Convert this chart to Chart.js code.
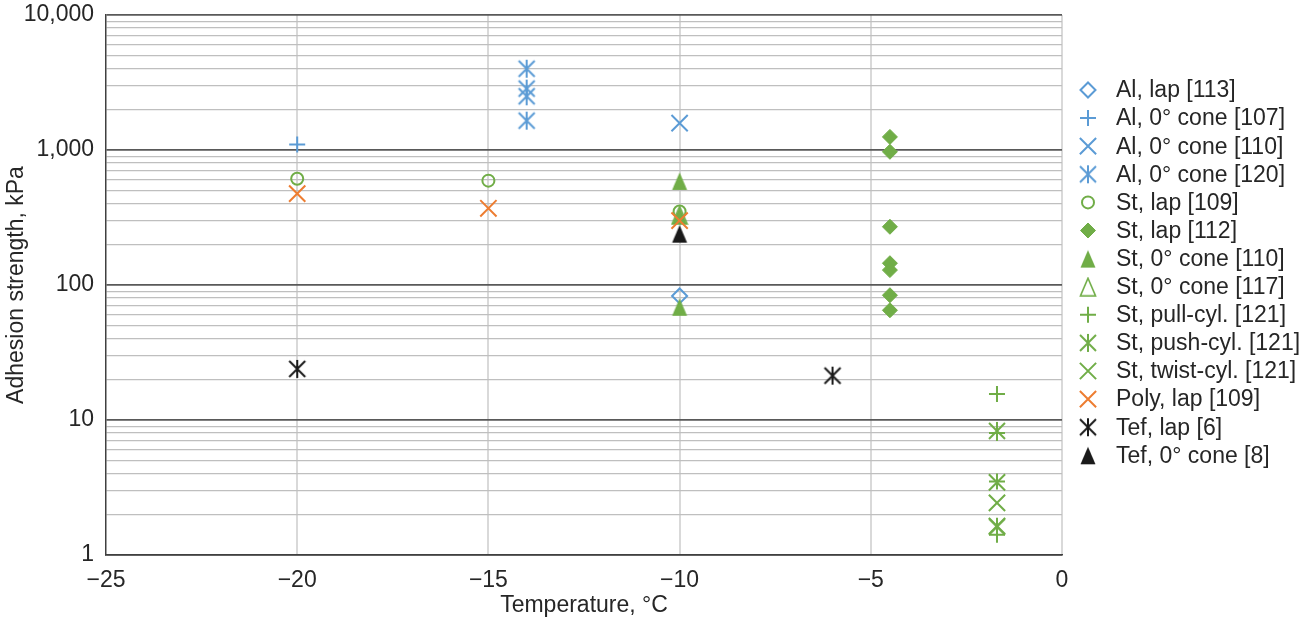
<!DOCTYPE html>
<html>
<head>
<meta charset="utf-8">
<title>Adhesion strength vs temperature</title>
<script src="https://cdn.jsdelivr.net/npm/chart.js@4.4.1/dist/chart.umd.min.js"></script>
<style>
  html, body { margin: 0; padding: 0; background: #fff; }
  #wrap { width: 1304px; height: 627px; }
</style>
</head>
<body>
<div id="wrap"><canvas id="adhesionChart" width="1304" height="627"></canvas></div>
<script>
// [temperature °C, adhesion strength kPa] per source
const alLap113 = [[-10, 83]];
const alCone107 = [[-20, 1100]];
const alCone110 = [[-10, 1580]];
const alCone120 = [[-14, 4000], [-14, 2850], [-14, 2500], [-14, 1650]];
const stLap109 = [[-20, 613], [-15, 593], [-10, 350]];
const stLap112 = [[-4.5, 1250], [-4.5, 970], [-4.5, 270], [-4.5, 145], [-4.5, 129], [-4.5, 84], [-4.5, 65]];
const stCone110 = [[-10, 590], [-10, 330], [-10, 69]];
const stCone117 = [[-10, 330]];
const stPullCyl121 = [[-1.7, 15.6], [-1.7, 8.0], [-1.7, 3.5], [-1.7, 1.41]];
const stPushCyl121 = [[-1.7, 8.3], [-1.7, 1.62]];
const stTwistCyl121 = [[-1.7, 3.45], [-1.7, 2.43], [-1.7, 1.64]];
const polyLap109 = [[-20, 475], [-15, 370], [-10, 300]];
const tefLap6 = [[-20, 23.9], [-6, 21.3]];
const tefCone8 = [[-10, 240]];

// axis ticks
const xTickValues = [-25, -20, -15, -10, -5, 0];
const yTickValues = [
  1, 2, 3, 4, 5, 6, 7, 8, 9,
  10, 20, 30, 40, 50, 60, 70, 80, 90,
  100, 200, 300, 400, 500, 600, 700, 800, 900,
  1000, 2000, 3000, 4000, 5000, 6000, 7000, 8000, 9000,
  10000
];
const yDecadeLabels = { 1: "1", 10: "10", 100: "100", 1000: "1,000", 10000: "10,000" };

const BLUE = "#5b9bd5";
const GREEN = "#70ad47";
const ORANGE = "#ed7d31";
const BLACK = "#1a1a1a";
const TEXT = "#262626";
const FONT = "Liberation Sans";

// asterisk marker: an X with a vertical bar
function asterisk(color) {
  const c = document.createElement("canvas");
  c.width = 20;
  c.height = 20;
  const g = c.getContext("2d");
  g.strokeStyle = color;
  g.lineWidth = 2;
  g.beginPath();
  g.moveTo(2, 2); g.lineTo(18, 18);
  g.moveTo(18, 2); g.lineTo(2, 18);
  g.moveTo(10, 1); g.lineTo(10, 19);
  g.stroke();
  return c;
}

// isosceles triangle marker, filled or outlined
function triangle(color, filled) {
  const c = document.createElement("canvas");
  c.width = 18;
  c.height = 20;
  const g = c.getContext("2d");
  g.beginPath();
  g.moveTo(9, 1.5);
  g.lineTo(16.5, 19);
  g.lineTo(1.5, 19);
  g.closePath();
  if (filled) {
    g.fillStyle = color;
    g.fill();
  } else {
    g.strokeStyle = color;
    g.lineWidth = 1.6;
    g.stroke();
  }
  return c;
}

const series = [
  { label: "Al, lap [113]", data: alLap113, color: BLUE, style: "rectRot", r: 7.5, fill: false },
  { label: "Al, 0° cone [107]", data: alCone107, color: BLUE, style: "cross", r: 8, fill: false },
  { label: "Al, 0° cone [110]", data: alCone110, color: BLUE, style: "crossRot", r: 11.5, fill: false },
  { label: "Al, 0° cone [120]", data: alCone120, color: BLUE, style: asterisk(BLUE), r: 9, fill: false },
  { label: "St, lap [109]", data: stLap109, color: GREEN, style: "circle", r: 6, fill: false },
  { label: "St, lap [112]", data: stLap112, color: GREEN, style: "rectRot", r: 7.5, fill: true },
  { label: "St, 0° cone [110]", data: stCone110, color: GREEN, style: triangle(GREEN, true), r: 9, fill: true },
  { label: "St, 0° cone [117]", data: stCone117, color: GREEN, style: triangle(GREEN, false), r: 9, fill: false },
  { label: "St, pull-cyl. [121]", data: stPullCyl121, color: GREEN, style: "cross", r: 8, fill: false },
  { label: "St, push-cyl. [121]", data: stPushCyl121, color: GREEN, style: asterisk(GREEN), r: 9, fill: false },
  { label: "St, twist-cyl. [121]", data: stTwistCyl121, color: GREEN, style: "crossRot", r: 11.5, fill: false },
  { label: "Poly, lap [109]", data: polyLap109, color: ORANGE, style: "crossRot", r: 11.5, fill: false },
  { label: "Tef, lap [6]", data: tefLap6, color: BLACK, style: asterisk(BLACK), r: 9, fill: false },
  { label: "Tef, 0° cone [8]", data: tefCone8, color: BLACK, style: triangle(BLACK, true), r: 9, fill: true }
];

function isDecade(v) {
  const l = Math.log10(v);
  return Math.abs(l - Math.round(l)) < 1e-9;
}

// legend column to the right of the plot
const sideLegend = {
  id: "sideLegend",
  afterDraw(chart) {
    const ctx = chart.ctx;
    const drawPoint = Chart.helpers && Chart.helpers.drawPoint;
    ctx.save();
    ctx.font = "23px '" + FONT + "'";
    ctx.textBaseline = "middle";
    chart.data.datasets.forEach(function (ds, i) {
      const y = 90 + i * 28.1;
      if (drawPoint) {
        ctx.fillStyle = ds.backgroundColor;
        ctx.strokeStyle = ds.borderColor;
        ctx.lineWidth = ds.borderWidth;
        drawPoint(ctx, { pointStyle: ds.pointStyle, radius: ds.pointRadius, borderWidth: ds.borderWidth, rotation: 0 }, 1088, y);
      }
      ctx.fillStyle = TEXT;
      ctx.fillText(ds.label, 1116, y + 1);
    });
    ctx.restore();
  }
};

const ctx = document.getElementById("adhesionChart").getContext("2d");

new Chart(ctx, {
  type: "scatter",
  data: {
    datasets: series.map(function (s, i) {
      return {
        label: s.label,
        data: s.data.map(function (p) { return { x: p[0], y: p[1] }; }),
        pointStyle: s.style,
        pointRadius: s.r,
        pointHoverRadius: s.r,
        borderColor: s.color,
        backgroundColor: s.fill ? s.color : "rgba(0,0,0,0)",
        borderWidth: s.fill ? 1 : 2,
        order: -i
      };
    })
  },
  options: {
    responsive: false,
    animation: false,
    layout: { padding: { top: 15, right: 242, bottom: 0, left: 0 } },
    plugins: {
      legend: { display: false },
      tooltip: { enabled: false }
    },
    scales: {
      x: {
        type: "linear",
        min: -25,
        max: 0,
        afterBuildTicks: function (scale) {
          scale.ticks = xTickValues.map(function (v) { return { value: v }; });
        },
        afterFit: function (scale) {
          scale.height = 72;
          scale.paddingLeft = 0;
          scale.paddingRight = 0;
        },
        ticks: {
          padding: 12,
          color: TEXT,
          font: { family: FONT, size: 23 },
          callback: function (v) { return v < 0 ? "\u2212" + Math.abs(v) : String(v); }
        },
        grid: {
          drawTicks: false,
          lineWidth: 2,
          color: function (c) {
            return c.tick && c.tick.value === -25 ? "rgba(0,0,0,0)" : "#d9d9d9";
          }
        },
        border: { color: "#404040", width: 1.5 },
        title: {
          display: true,
          text: "Temperature, °C",
          color: TEXT,
          font: { family: FONT, size: 23 },
          padding: { top: 4, bottom: 8 }
        }
      },
      y: {
        type: "logarithmic",
        min: 1,
        max: 10000,
        afterBuildTicks: function (scale) {
          scale.ticks = yTickValues.map(function (v) { return { value: v }; });
        },
        afterFit: function (scale) {
          scale.width = 106;
          scale.paddingTop = 0;
          scale.paddingBottom = 0;
        },
        ticks: {
          autoSkip: false,
          padding: 12,
          color: TEXT,
          font: { family: FONT, size: 23 },
          callback: function (v) { return yDecadeLabels[v] || ""; }
        },
        grid: {
          drawTicks: false,
          color: function (c) {
            return c.tick && isDecade(c.tick.value) ? "#595959" : "#bfbfbf";
          },
          lineWidth: function (c) {
            return c.tick && isDecade(c.tick.value) ? 1.7 : 1.3;
          }
        },
        border: { color: "#404040", width: 1.5 },
        title: {
          display: true,
          text: "Adhesion strength, kPa",
          color: TEXT,
          font: { family: FONT, size: 23 },
          padding: { top: 3, bottom: 4 }
        }
      }
    }
  },
  plugins: [sideLegend]
});
</script>
</body>
</html>
